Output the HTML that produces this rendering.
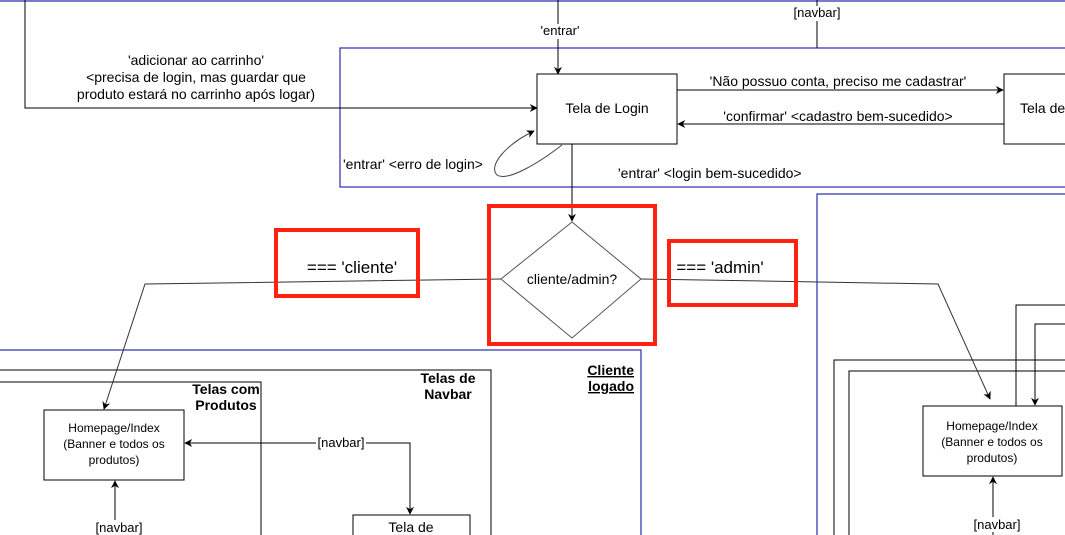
<!DOCTYPE html>
<html><head><meta charset="utf-8"><style>
html,body{margin:0;padding:0;background:#fff;width:1065px;height:535px;overflow:hidden;}
svg{display:block;font-family:"Liberation Sans",Arial,sans-serif;}
</style></head><body>
<svg width="1065" height="535" viewBox="0 0 1065 535" xmlns="http://www.w3.org/2000/svg">
<defs>
<marker id="a" viewBox="0 0 10 10" refX="9" refY="5" markerWidth="8" markerHeight="8" orient="auto-start-reverse" markerUnits="userSpaceOnUse"><path d="M0,0 L10,5 L0,10 L3,5 Z" fill="#000"/></marker>
</defs>
<rect width="1065" height="535" fill="#fff"/>
<line x1="0" y1="1" x2="1065" y2="1" stroke="#2b2bb0" stroke-width="1.2"/>
<rect x="340" y="48" width="730" height="139" fill="none" stroke="#2b2bb0" stroke-width="1.2"/>
<rect x="817" y="194" width="260" height="360" fill="none" stroke="#2b2bb0" stroke-width="1.2"/>
<rect x="-5" y="350" width="646" height="200" fill="none" stroke="#2b2bb0" stroke-width="1.2"/>
<rect x="-5" y="370" width="496" height="200" fill="none" stroke="#000"/>
<rect x="-5" y="382" width="266" height="200" fill="none" stroke="#000"/>
<rect x="834" y="360" width="260" height="200" fill="none" stroke="#000"/>
<rect x="849" y="371" width="260" height="200" fill="none" stroke="#000"/>
<polyline points="25,0 25,108 537,108" fill="none" stroke="#000" marker-end="url(#a)"/>
<line x1="558" y1="0" x2="558" y2="74" stroke="#000" marker-end="url(#a)"/>
<rect x="536" y="24" width="46" height="15" fill="#fff"/>
<text x="560" y="35" font-size="13" text-anchor="middle">'entrar'</text>
<line x1="817" y1="0" x2="817" y2="48" stroke="#000"/>
<rect x="791" y="6" width="52" height="15" fill="#fff"/>
<text x="817" y="17" font-size="13" text-anchor="middle">[navbar]</text>
<text font-size="14" text-anchor="middle"><tspan x="196" y="65">'adicionar ao carrinho'</tspan><tspan x="196" y="82">&lt;precisa de login, mas guardar que</tspan><tspan x="196" y="99">produto estará no carrinho após logar)</tspan></text>
<rect x="537" y="74" width="140" height="70" fill="#fff" stroke="#000"/>
<text x="607" y="113" font-size="14" text-anchor="middle">Tela de Login</text>
<rect x="1004" y="74" width="80" height="70" fill="#fff" stroke="#000"/>
<text x="1020" y="113" font-size="14">Tela de</text>
<line x1="677" y1="90" x2="1003" y2="90" stroke="#000" marker-end="url(#a)"/>
<text x="838" y="86" font-size="14" text-anchor="middle">'Não possuo conta, preciso me cadastrar'</text>
<line x1="1004" y1="124" x2="678" y2="124" stroke="#000" marker-end="url(#a)"/>
<text x="838" y="121" font-size="14" text-anchor="middle">'confirmar' &lt;cadastro bem-sucedido&gt;</text>
<path d="M562,145 C540,162 508,182 497,175 C488,166 505,145 534,131" fill="none" stroke="#444" marker-end="url(#a)"/>
<text x="343" y="169" font-size="14">'entrar' &lt;erro de login&gt;</text>
<text x="618" y="178" font-size="14">'entrar' &lt;login bem-sucedido&gt;</text>
<line x1="572" y1="144" x2="572" y2="221" stroke="#000" marker-end="url(#a)"/>
<polygon points="572,222 641,279 572,338 501,279" fill="#fff" stroke="#555"/>
<text x="572" y="284" font-size="14" text-anchor="middle">cliente/admin?</text>
<polyline points="501,279 145,284 104,409" fill="none" stroke="#333" marker-end="url(#a)"/>
<polyline points="641,279 938,284 990,399" fill="none" stroke="#333" marker-end="url(#a)"/>
<text x="352" y="273" font-size="17" text-anchor="middle">=== 'cliente'</text>
<text x="720" y="273" font-size="17" text-anchor="middle">=== 'admin'</text>
<rect x="276" y="230" width="142" height="66" fill="none" stroke="#f21" stroke-width="4"/>
<rect x="489" y="206" width="166" height="138" fill="none" stroke="#f21" stroke-width="4"/>
<rect x="669" y="241" width="127" height="64" fill="none" stroke="#f21" stroke-width="4"/>
<text x="634" y="375" font-size="14" font-weight="bold" text-anchor="end" text-decoration="underline">Cliente</text>
<text x="634" y="391" font-size="14" font-weight="bold" text-anchor="end" text-decoration="underline">logado</text>
<text x="448" y="383" font-size="14" font-weight="bold" text-anchor="middle">Telas de</text>
<text x="448" y="399" font-size="14" font-weight="bold" text-anchor="middle">Navbar</text>
<text x="226" y="394" font-size="14" font-weight="bold" text-anchor="middle">Telas com</text>
<text x="226" y="410" font-size="14" font-weight="bold" text-anchor="middle">Produtos</text>
<rect x="44" y="410" width="140" height="70" fill="#fff" stroke="#000"/>
<text font-size="12" text-anchor="middle"><tspan x="114" y="432">Homepage/Index</tspan><tspan x="114" y="448">(Banner e todos os</tspan><tspan x="114" y="464">produtos)</tspan></text>
<polyline points="410,514 410,443 185,443" fill="none" stroke="#000" marker-start="url(#a)" marker-end="url(#a)"/>
<rect x="316" y="436" width="50" height="14" fill="#fff"/>
<text x="341" y="447" font-size="13" text-anchor="middle">[navbar]</text>
<rect x="353" y="515" width="117" height="40" fill="#fff" stroke="#000"/>
<text x="411" y="532" font-size="14" text-anchor="middle">Tela de</text>
<line x1="115" y1="535" x2="115" y2="481" stroke="#000" marker-end="url(#a)"/>
<rect x="93" y="520" width="52" height="15" fill="#fff"/>
<text x="119" y="532" font-size="13" text-anchor="middle">[navbar]</text>
<polyline points="1016,406 1016,305 1065,305" fill="none" stroke="#000"/>
<polyline points="1065,324 1035,324 1035,405" fill="none" stroke="#000" marker-end="url(#a)"/>
<rect x="923" y="406" width="139" height="70" fill="#fff" stroke="#000"/>
<text font-size="12" text-anchor="middle"><tspan x="992" y="430">Homepage/Index</tspan><tspan x="992" y="446">(Banner e todos os</tspan><tspan x="992" y="462">produtos)</tspan></text>
<line x1="993" y1="535" x2="993" y2="477" stroke="#000" marker-end="url(#a)"/>
<rect x="971" y="517" width="52" height="15" fill="#fff"/>
<text x="997" y="529" font-size="13" text-anchor="middle">[navbar]</text>
</svg>
</body></html>
